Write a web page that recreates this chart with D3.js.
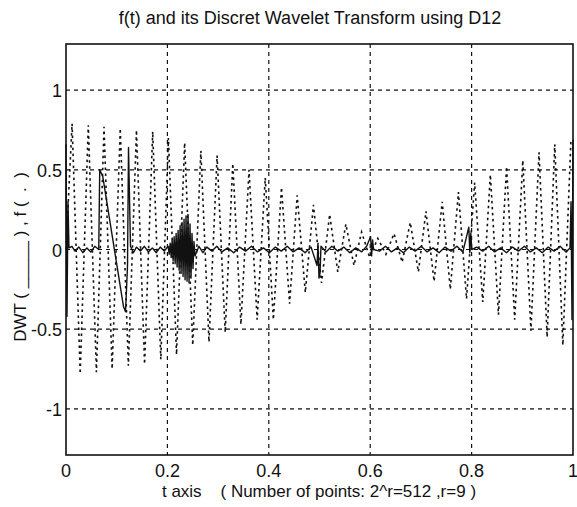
<!DOCTYPE html>
<html>
<head>
<meta charset="utf-8">
<script src="https://cdn.jsdelivr.net/npm/d3@7"></script>
<style>
  body { margin: 0; background: #fff; }
  svg { display: block; }
  text { font-family: "Liberation Sans", Arial, sans-serif; fill: #111; }
</style>
</head>
<body>
<svg width="577" height="507"></svg>
<script>
const width = 577;
const height = 507;
const margin = { left: 66, right: 4, top: 44, bottom: 52 };

const xTicks = [0, 0.2, 0.4, 0.6, 0.8, 1];
const yTicks = [-1, -0.5, 0, 0.5, 1];
const xTickLabels = ["0", "0.2", "0.4", "0.6", "0.8", "1"];
const yTickLabels = ["-1", "-0.5", "0", "0.5", "1"];

// f(t): alternating peaks and troughs
const fT = [0, 0.012, 0.028, 0.044, 0.060, 0.075, 0.091, 0.107, 0.123, 0.139, 0.155,
  0.171, 0.187, 0.202, 0.218, 0.234, 0.250, 0.266, 0.282, 0.298, 0.314,
  0.329, 0.345, 0.361, 0.377, 0.393, 0.409, 0.425, 0.441, 0.456, 0.472,
  0.488, 0.504, 0.520, 0.536, 0.552, 0.568, 0.583, 0.599, 0.615, 0.631,
  0.647, 0.663, 0.679, 0.695, 0.710, 0.726, 0.742, 0.758, 0.774, 0.790,
  0.806, 0.822, 0.837, 0.853, 0.869, 0.885, 0.901, 0.917, 0.933, 0.949,
  0.964, 0.980, 0.996];
const fV = [0, 0.79, -0.78, 0.78, -0.77, 0.77, -0.75, 0.76, -0.73, 0.75, -0.72,
  0.74, -0.69, 0.70, -0.66, 0.67, -0.60, 0.62, -0.58, 0.59, -0.52,
  0.54, -0.47, 0.50, -0.44, 0.45, -0.44, 0.39, -0.34, 0.34, -0.27,
  0.28, -0.21, 0.22, -0.14, 0.16, -0.10, 0.11, -0.05, 0.07, -0.03,
  0.10, -0.08, 0.17, -0.14, 0.24, -0.20, 0.30, -0.25, 0.36, -0.31,
  0.42, -0.33, 0.47, -0.41, 0.52, -0.44, 0.56, -0.51, 0.61, -0.55,
  0.66, -0.60, 0.69];

// DWT coefficients (sample index out of 512, value)
const dwtIdx = [0, 1, 2, 3, 6, 9, 13, 17, 21, 25, 29, 33, 34, 37, 58, 60, 61, 62, 63, 65,
  68, 71, 75, 79, 83, 87, 91, 95, 99,
  103, 104, 105, 106, 107, 108, 109, 110, 111, 112, 113, 114, 115, 116, 117, 118,
  119, 120, 121, 122, 123, 124, 125, 126, 127, 128, 129, 130,
  134, 138, 142, 147, 152, 157, 163, 169, 175, 181, 187, 193, 199, 205, 211, 217,
  223, 229, 235, 241, 247, 253, 254, 255, 256, 257,
  262, 268, 274, 280, 286, 292, 298, 303, 307, 308, 309, 310,
  316, 322, 328, 334, 340, 346, 352, 358, 364, 370, 376, 382, 388, 394, 400, 406, 407, 408, 409,
  414, 420, 426, 432, 438, 444, 450, 456, 462, 468, 474, 480, 486, 492, 498, 504, 508, 509, 510, 511];
const dwtVal = [0.66, -0.42, 0.3, 0.01, 0.02, -0.01, 0.015, -0.02, 0.01, -0.015, 0.02, 0, 0.5, 0.46, -0.36, -0.39, -0.25, -0.1, 0.64, 0.02,
  -0.02, 0.015, -0.01, 0.02, -0.015, 0.01, -0.02, 0.015, -0.01,
  0.02, -0.03, 0.04, -0.05, 0.06, -0.07, 0.08, -0.09, 0.10, -0.11, 0.12, -0.13, 0.15, -0.15, 0.17, -0.17,
  0.19, -0.19, 0.21, -0.20, 0.22, -0.21, 0.16, -0.18, 0.10, -0.12, 0.05, -0.04,
  0.02, -0.02, 0.015, -0.01, 0.02, -0.015, 0.01, -0.02, 0.015, -0.01, 0.02, -0.015, 0.01, -0.02, 0.015, -0.01,
  0.02, -0.015, 0.01, -0.02, 0.015, -0.10, 0.04, -0.18, -0.15, 0.02,
  -0.015, 0.02, -0.01, 0.015, -0.02, 0.01, -0.015, 0.02, 0.08, -0.04, 0.06, 0,
  -0.01, 0.02, -0.015, 0.01, -0.02, 0.015, -0.01, 0.02, -0.015, 0.01, -0.02, 0.015, -0.01, 0.02, -0.015, 0.14, -0.02, 0.10, 0,
  0.015, -0.01, 0.02, -0.015, 0.01, -0.02, 0.015, -0.01, 0.02, -0.015, 0.01, -0.02, 0.015, -0.01, 0.02, -0.015, 0.01, 0.3, -0.44, 0.69];

const svg = d3.select("svg");

const x = d3.scaleLinear().domain([0, 1]).range([margin.left, width - margin.right]);
const y = d3.scaleLinear().domain([-1.29, 1.29]).range([height - margin.bottom, margin.top]);

const x0 = margin.left, x1 = width - margin.right;
const y0 = margin.top, y1 = height - margin.bottom;

// grid
const grid = svg.append("g").attr("stroke", "#111").attr("stroke-width", 1.2).attr("stroke-dasharray", "4,4");
grid.selectAll(".gx").data(xTicks.slice(1, -1)).join("line")
  .attr("x1", d => x(d)).attr("x2", d => x(d)).attr("y1", y0).attr("y2", y1);
grid.selectAll(".gy").data(yTicks).join("line")
  .attr("y1", d => y(d)).attr("y2", d => y(d)).attr("x1", x0).attr("x2", x1);

// f(t) dotted
const fData = fT.map((t, i) => [t, fV[i]]);
svg.append("path")
  .datum(fData)
  .attr("fill", "none")
  .attr("stroke", "#111")
  .attr("stroke-width", 1.6)
  .attr("stroke-dasharray", "2.5,3.5")
  .attr("d", d3.line().x(d => x(d[0])).y(d => y(d[1])));

// DWT solid
const dwtData = dwtIdx.map((k, i) => [k / 511, dwtVal[i]]);
svg.append("path")
  .datum(dwtData)
  .attr("fill", "none")
  .attr("stroke", "#111")
  .attr("stroke-width", 1.4)
  .attr("stroke-linejoin", "round")
  .attr("d", d3.line().x(d => x(d[0])).y(d => y(d[1])));

// frame
svg.append("rect")
  .attr("x", x0).attr("y", y0)
  .attr("width", x1 - x0).attr("height", y1 - y0)
  .attr("fill", "none").attr("stroke", "#111").attr("stroke-width", 1.6);

// tick labels
svg.append("g").selectAll("text").data(xTicks).join("text")
  .attr("x", d => x(d)).attr("y", 477)
  .attr("text-anchor", "middle").attr("font-size", 18)
  .text((d, i) => xTickLabels[i]);

svg.append("g").selectAll("text").data(yTicks).join("text")
  .attr("x", 62).attr("y", d => y(d) + 7)
  .attr("text-anchor", "end").attr("font-size", 18)
  .text((d, i) => yTickLabels[i]);

// title and axis labels
svg.append("text")
  .attr("x", 310).attr("y", 24)
  .attr("text-anchor", "middle").attr("font-size", 18)
  .text("f(t) and its Discret Wavelet Transform using D12");

svg.append("text")
  .attr("x", 319).attr("y", 497)
  .attr("text-anchor", "middle").attr("font-size", 17)
  .style("white-space", "pre")
  .text("t axis    ( Number of points: 2^r=512 ,r=9 )");

svg.append("text")
  .attr("transform", "translate(26,257) rotate(-90)")
  .attr("text-anchor", "middle").attr("font-size", 17)
  .style("white-space", "pre")
  .text("DWT ( _____ ) , f (  .  )");
</script>
</body>
</html>
